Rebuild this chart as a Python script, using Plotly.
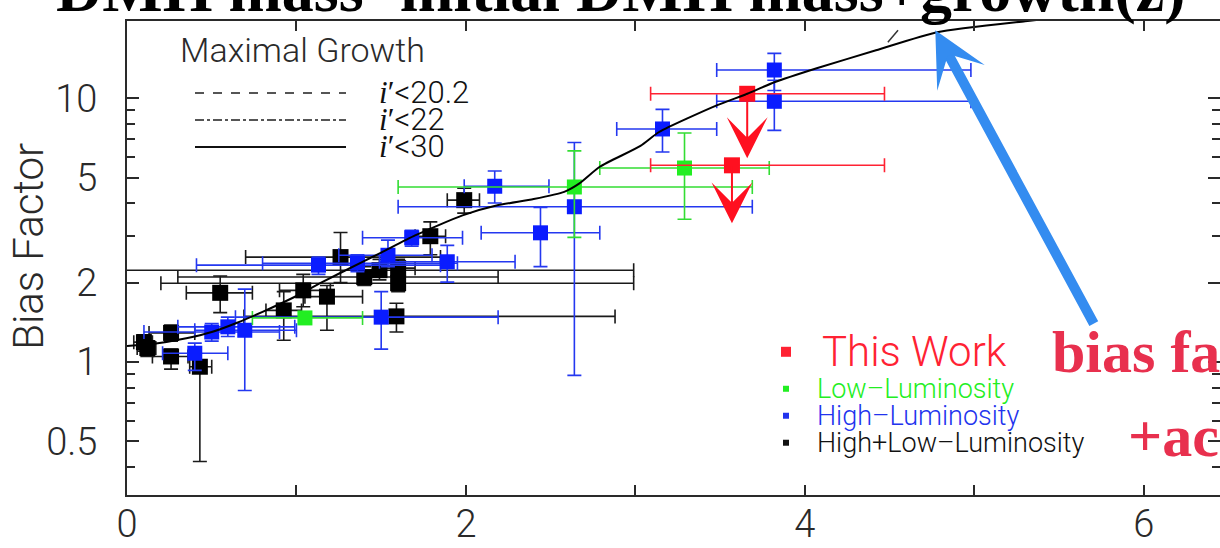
import numpy as np
import plotly.graph_objects as go

# ---- High+Low-Luminosity samples (black) ----
k_z   = [0.10, 0.12, 0.26, 0.26, 0.43, 0.55, 0.925, 1.04, 1.18, 1.26, 1.40, 1.49, 1.60, 1.60, 1.59, 1.79, 1.99]
k_b   = [1.19, 1.13, 1.29, 1.05, 0.96, 1.83, 1.57, 1.87, 1.77, 2.50, 2.10, 2.23, 2.27, 1.99, 1.49, 3.00, 4.11]
k_zlo = [0.04, 0.06, 0.13, 0.15, 0.37, 0.35, 0.82, 0.90, 1.05, 0.70, 0.30, -0.10, 1.50, 0.20, 0.69, 1.70, 1.89]
k_zhi = [0.15, 0.17, 0.40, 0.36, 0.50, 0.74, 1.03, 1.20, 1.39, 1.85, 2.19, 2.99, 1.70, 2.99, 2.88, 1.88, 2.08]
k_blo = [1.10, 1.05, 1.20, 0.94, 0.42, 1.54, 1.21, 1.62, 1.32, 2.00, 1.95, 2.05, 2.10, 1.85, 1.30, 2.55, 3.67]
k_bhi = [1.27, 1.20, 1.38, 1.12, 1.02, 2.12, 1.85, 2.15, 1.95, 3.10, 2.30, 2.45, 2.45, 2.15, 1.67, 3.40, 4.56]

# ---- High-Luminosity samples (blue) ----
b_z   = [0.40, 0.50, 0.595, 0.695, 1.13, 1.36, 1.54, 1.68, 1.89, 1.50, 2.17, 2.44, 2.64, 3.16, 3.82, 3.82]
b_b   = [1.08, 1.30, 1.36, 1.32, 2.33, 2.37, 2.54, 2.96, 2.40, 1.48, 4.64, 3.09, 3.88, 7.65, 9.74, 12.8]
b_zlo = [0.21, 0.10, 0.30, 0.40, 0.41, 0.80, 1.25, 1.39, 1.49, 0.64, 1.99, 2.09, 1.60, 2.89, 3.48, 3.48]
b_zhi = [0.595, 0.90, 0.99, 1.00, 1.85, 1.95, 1.80, 1.98, 2.29, 2.19, 2.49, 2.79, 3.69, 3.48, 4.98, 4.98]
b_blo = [0.93, 1.20, 1.25, 0.78, 2.15, 2.20, 2.30, 2.75, 2.01, 1.12, 4.01, 2.30, 0.89, 6.26, 7.56, 10.7]
b_bhi = [1.18, 1.40, 1.48, 1.89, 2.50, 2.55, 2.90, 3.16, 2.77, 1.85, 5.30, 3.86, 6.80, 9.08, 11.7, 14.8]

# ---- Low-Luminosity samples (green) ----
g_z   = [1.05, 2.64, 3.29]
g_b   = [1.47, 4.61, 5.44]
g_zlo = [0.74, 1.60, 2.79]
g_zhi = [1.39, 3.69, 3.79]
g_blo = [1.47, 2.97, 3.48]
g_bhi = [1.47, 6.32, 7.39]

# ---- This Work (red), upper limits ----
r_z   = [3.66, 3.57]
r_b   = [10.4, 5.57]
r_zlo = [3.09, 3.09]
r_zhi = [4.47, 4.47]
r_lim = [5.93, 3.36]

# ---- Maximal-growth model curves ----
m_z = [0.00, 0.15, 0.35, 0.50, 0.65, 0.80, 1.00, 1.14, 1.39, 1.50, 1.70, 1.98, 2.18, 2.40,
       2.58, 2.67, 2.79, 3.03, 3.14, 3.48, 3.66, 3.82, 4.07, 4.42, 4.78, 5.30, 5.60]
m_b = [1.15, 1.17, 1.23, 1.30, 1.41, 1.55, 1.78, 1.99, 2.40, 2.60, 3.02, 3.60, 3.92, 4.15,
       4.42, 4.76, 5.50, 6.60, 7.45, 9.40, 10.4, 11.5, 13.0, 15.2, 17.8, 19.6, 20.5]
d_z = [4.49, 4.55]
d_b = [16.3, 18.1]

# ---- axis ticks ----
x_ticks = [0, 1, 2, 3, 4, 5, 6]
x_text = ["0", "", "2", "", "4", "", "6"]
y_major = [0.5, 1, 2, 5, 10]
y_major_text = ["0.5", "1", "2", "5", "10"]
y_minor = [0.4, 0.6, 0.7, 0.8, 0.9, 3, 4, 6, 7, 8, 9]

SANS = "Roboto"
SERIF = "Liberation Serif"
INK = "#2a2a2a"
THIN = 300


def errs(v, lo, hi):
    v, lo, hi = map(np.asarray, (v, lo, hi))
    return dict(type="data", symmetric=False, array=hi - v, arrayminus=v - lo)


def sample_trace(z, b, zlo, zhi, blo, bhi, color, bar_color, size):
    ex = errs(z, zlo, zhi)
    ey = errs(b, blo, bhi)
    ex.update(color=bar_color, thickness=1.6, width=7)
    ey.update(color=bar_color, thickness=1.6, width=7)
    return go.Scatter(x=z, y=b, mode="markers",
                      marker=dict(symbol="square", size=size, color=color, line=dict(width=0)),
                      error_x=ex, error_y=ey, showlegend=False)


fig = go.Figure()
fig.add_trace(sample_trace(k_z, k_b, k_zlo, k_zhi, k_blo, k_bhi, "#000000", "#1a1a1a", 16))
fig.add_trace(sample_trace(b_z, b_b, b_zlo, b_zhi, b_blo, b_bhi, "#0a1cff", "#2438f0", 15))
fig.add_trace(sample_trace(g_z, g_b, g_zlo, g_zhi, g_blo, g_bhi, "#22ee22", "#33dd33", 15))

rx = errs(r_z, r_zlo, r_zhi)
rx.update(color="#ff2233", thickness=1.6, width=7)
fig.add_trace(go.Scatter(x=r_z, y=r_b, mode="markers",
                         marker=dict(symbol="square", size=16, color="#ff1020"),
                         error_x=rx, showlegend=False))

# model curves
fig.add_trace(go.Scatter(x=m_z, y=m_b, mode="lines",
                         line=dict(color="#000000", width=2, shape="spline", smoothing=0.6),
                         showlegend=False))
fig.add_trace(go.Scatter(x=d_z, y=d_b, mode="lines", line=dict(color="#333333", width=1.5),
                         showlegend=False))

annotations = []
# upper-limit arrows for this work
for z, b, lim in zip(r_z, r_b, r_lim):
    annotations.append(dict(x=z, y=np.log10(lim), ax=z, ay=np.log10(b), xref="x", yref="y",
                            axref="x", ayref="y", showarrow=True, arrowhead=3, arrowsize=3.4,
                            arrowwidth=2, arrowcolor="#ff1020", text="", standoff=0))

# big pointer arrow toward the model curve
annotations.append(dict(x=4.77, y=np.log10(18.1), ax=5.71, ay=np.log10(1.38), xref="x", yref="y",
                        axref="x", ayref="y", showarrow=True, arrowhead=3, arrowsize=0.9,
                        arrowwidth=10, arrowcolor="#348cf0", text="", standoff=0))


def px_x(p):
    return (p - 127) / 1093


def px_y(p):
    return (495.3 - p) / 474.3


# title across the top
annotations.append(dict(text="DMH mass=initial DMH mass+growth(z)", x=px_x(620), y=px_y(-11),
                        xref="paper", yref="paper", xanchor="center", yanchor="middle",
                        showarrow=False, font=dict(family=SERIF, size=64, color="#000000", weight="bold")))

# y-axis label
annotations.append(dict(text="Bias Factor", x=px_x(29), y=px_y(247), xref="paper", yref="paper",
                        xanchor="center", yanchor="middle", textangle=-90, showarrow=False,
                        font=dict(family=SANS, size=42, color=INK, weight=THIN)))

# red commentary
annotations.append(dict(text="bias factor", x=px_x(1050), y=px_y(352), xref="paper", yref="paper",
                        xanchor="left", yanchor="middle", showarrow=False,
                        font=dict(family=SERIF, size=60, color="#e8304e", weight="bold")))
annotations.append(dict(text="+accretion", x=px_x(1126), y=px_y(436), xref="paper", yref="paper",
                        xanchor="left", yanchor="middle", showarrow=False,
                        font=dict(family=SERIF, size=60, color="#e8304e", weight="bold")))

# model legend
annotations.append(dict(text="Maximal Growth", x=px_x(178), y=px_y(50), xref="paper", yref="paper",
                        xanchor="left", yanchor="middle", showarrow=False,
                        font=dict(family=SANS, size=34, color=INK, weight=THIN)))
model_labels = ["20.2", "22", "30"]
model_rows = [93, 120, 147]
for lab, row in zip(model_labels, model_rows):
    annotations.append(dict(text="<span style='font-family:Liberation Serif'><i>i</i>′</span>&lt;" + lab,
                            x=px_x(377), y=px_y(row), xref="paper", yref="paper",
                            xanchor="left", yanchor="middle", showarrow=False,
                            font=dict(family=SANS, size=31, color="#111111", weight=THIN)))

# sample legend
sample_names = ["This Work", "Low–Luminosity", "High–Luminosity", "High+Low–Luminosity"]
sample_colors = ["#ff2233", "#22ee22", "#2233ee", "#111111"]
sample_rows = [352, 389, 416, 443]
sample_fonts = [42, 27, 27, 27]
sample_box = [5, 3, 3, 3]
shapes = []
for name, col, row, fs, hb in zip(sample_names, sample_colors, sample_rows, sample_fonts, sample_box):
    annotations.append(dict(text=name, x=px_x(815 if fs < 30 else 820), y=px_y(row), xref="paper", yref="paper",
                            xanchor="left", yanchor="middle", showarrow=False,
                            font=dict(family=SANS, size=fs, color=col, weight=THIN)))
    shapes.append(dict(type="rect", xref="paper", yref="paper",
                       x0=px_x(786 - hb), x1=px_x(786 + hb), y0=px_y(row + hb), y1=px_y(row - hb),
                       fillcolor=col, line=dict(width=0)))

line_styles = [("dash", "#555555"), ("dashdot", "#555555"), ("solid", "#111111")]
for (dash, col), row in zip(line_styles, model_rows):
    shapes.append(dict(type="line", xref="paper", yref="paper", x0=px_x(195), x1=px_x(346),
                       y0=px_y(row), y1=px_y(row), line=dict(color=col, width=2, dash=dash)))

fig.update_layout(
    width=1220, height=548,
    margin=dict(l=127, r=0, t=21, b=53),
    paper_bgcolor="white", plot_bgcolor="white",
    annotations=annotations, shapes=shapes,
    showlegend=False,
)
fig.update_xaxes(range=[0, 6.45], showgrid=False, zeroline=False, automargin=False,
                 showline=True, linecolor=INK, linewidth=2, mirror="ticks",
                 ticks="inside", ticklen=10, tickwidth=1.5, tickcolor=INK,
                 tickvals=x_ticks, ticktext=x_text, ticklabelstandoff=-6,
                 tickfont=dict(family=SANS, size=38, color=INK, weight=THIN))
fig.update_yaxes(type="log", range=[-0.504, 1.293], showgrid=False, zeroline=False, automargin=False,
                 showline=True, linecolor=INK, linewidth=2, mirror="ticks",
                 ticks="inside", ticklen=12, tickwidth=1.5, tickcolor=INK,
                 tickvals=y_major, ticktext=y_major_text, ticklabelstandoff=20,
                 minor=dict(tickvals=y_minor, ticks="inside", ticklen=8, tickwidth=1.5, tickcolor=INK, showgrid=False),
                 tickfont=dict(family=SANS, size=38, color=INK, weight=THIN))

fig.write_html("out.html")
